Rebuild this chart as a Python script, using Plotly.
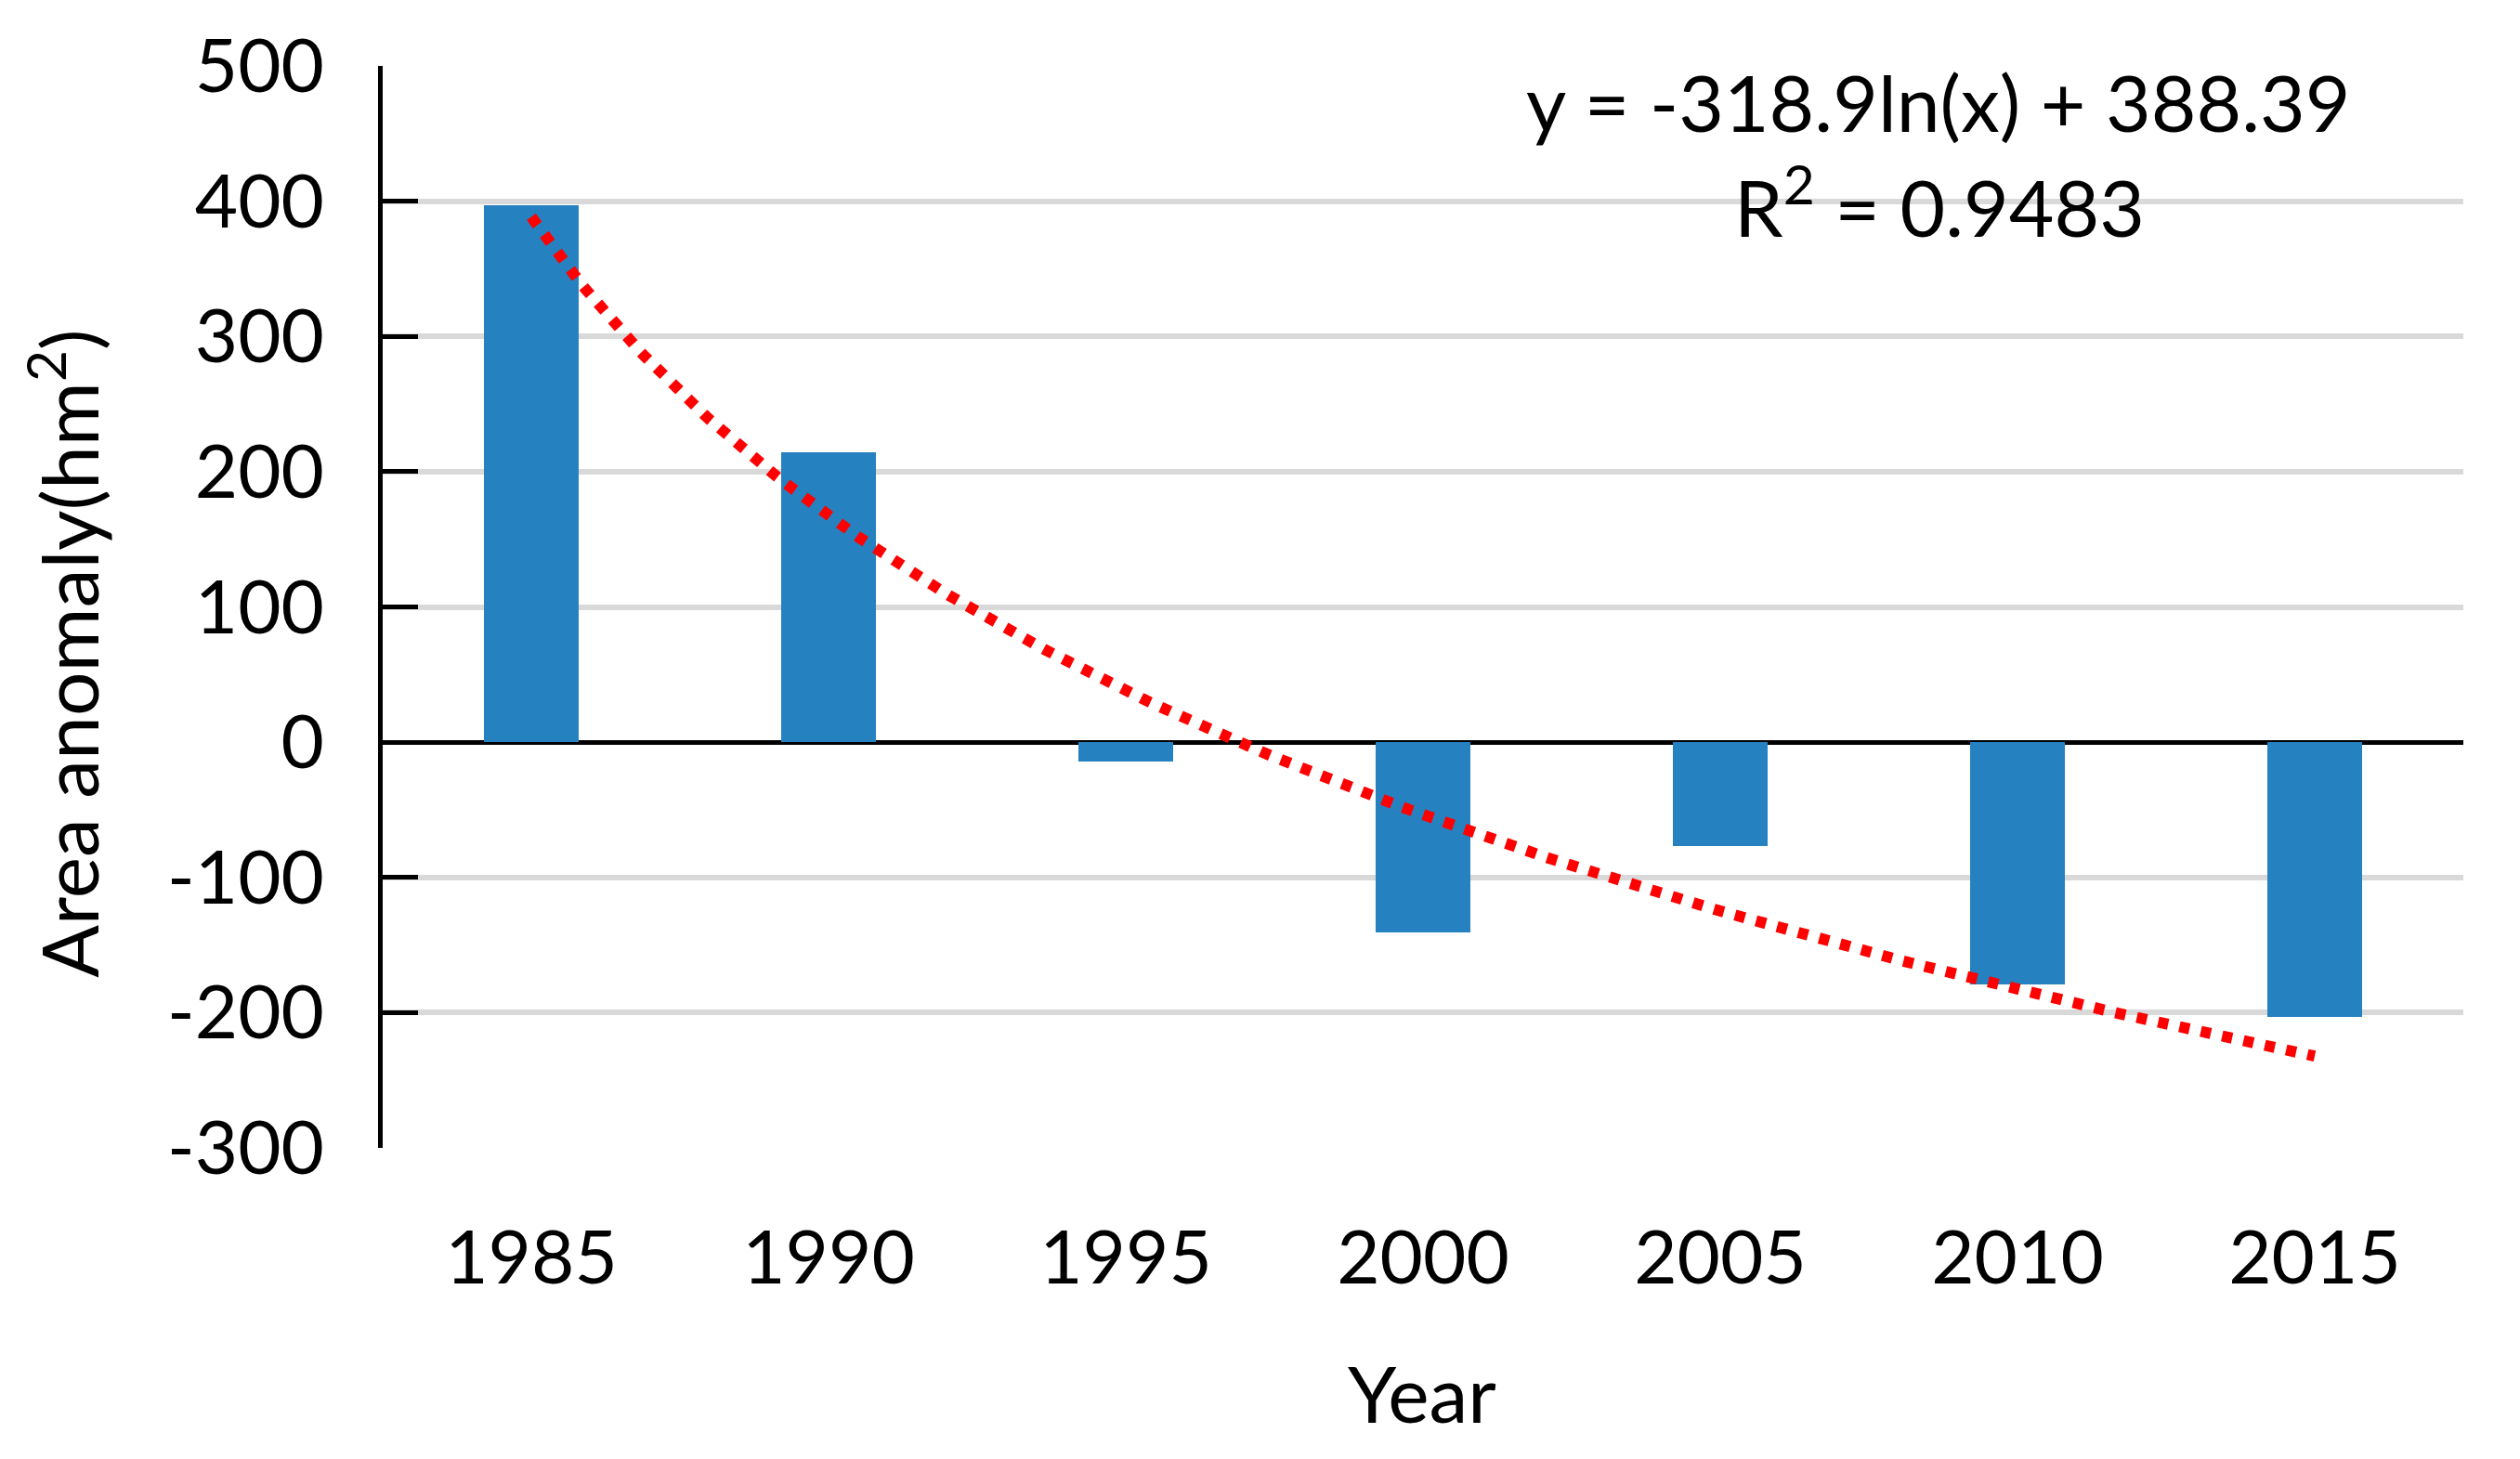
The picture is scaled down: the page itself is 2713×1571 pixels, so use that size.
import numpy as np
import plotly.graph_objects as go

years = ["1985", "1990", "1995", "2000", "2005", "2010", "2015"]
anomaly = [397, 214, -14, -141, -77, -179, -203]
trend_slope = -318.9
trend_intercept = 388.39
r_squared = 0.9483
y_ticks = [-300, -200, -100, 0, 100, 200, 300, 400, 500]
y_ticktext = ["-300", "-200", "-100", "0", "100", "200", "300", "400", "500"]

pos = np.arange(1, len(years) + 1)
xs = np.linspace(1, len(years), 300)
ys = trend_slope * np.log(xs) + trend_intercept

FONT = "Lato"
TICK_FS = 80
TXT_FS = 84

W, H = 2713, 1571
L, R, T, B = 404, 69, 60, 343
PW, PH = W - L - R, H - T - B


def px_x(p):
    return (p - L) / PW


def px_y(p):
    return (H - B - p) / PH


fig = go.Figure()
fig.add_trace(go.Bar(x=pos, y=anomaly, width=0.317, marker=dict(color="#2581c0", line=dict(width=0)),
                     showlegend=False))
fig.add_trace(go.Scatter(x=xs, y=ys, mode="lines", line=dict(color="#ff0000", width=12, dash="11px,12.5px"),
                         showlegend=False))

fig.add_annotation(x=px_x(2078), y=px_y(151), xref="paper", yref="paper", xanchor="center", yanchor="bottom",
                   text="y = %.1fln(x) + %.2f" % (trend_slope, trend_intercept),
                   showarrow=False, font=dict(family=FONT, size=TXT_FS, color="black"))
fig.add_annotation(x=px_x(2080), y=px_y(265), xref="paper", yref="paper", xanchor="center", yanchor="bottom",
                   text="R<sup>2</sup> = %.4f" % r_squared,
                   showarrow=False, font=dict(family=FONT, size=TXT_FS, color="black"))
# axis titles
fig.add_annotation(x=px_x(1523), y=px_y(1545), xref="paper", yref="paper", xanchor="center", yanchor="bottom",
                   text="Year", showarrow=False, font=dict(family=FONT, size=TXT_FS, color="black"))
fig.add_annotation(x=px_x(118), y=px_y(695), xref="paper", yref="paper", xanchor="right", yanchor="middle",
                   text="Area anomaly(hm<sup>2</sup>)", textangle=-90, showarrow=False,
                   font=dict(family=FONT, size=TXT_FS, color="black"))

fig.update_layout(
    width=W, height=H,
    margin=dict(l=L, r=R, t=T, b=B),
    paper_bgcolor="white", plot_bgcolor="white",
    font=dict(family=FONT, size=TICK_FS, color="black"),
    bargap=0,
)
fig.update_xaxes(
    range=[0.5, len(years) + 0.5], tickvals=pos, ticktext=years,
    showgrid=False, zeroline=False, showline=False, ticks="",
    ticklabelstandoff=65,
    tickfont=dict(size=TICK_FS),
)
fig.update_yaxes(
    range=[-300, 500], tickvals=y_ticks, ticktext=y_ticktext,
    showgrid=True, gridcolor="#d9d9d9", gridwidth=6,
    zeroline=True, zerolinecolor="black", zerolinewidth=5,
    showline=True, linecolor="black", linewidth=5,
    ticks="inside", ticklen=38, tickwidth=5, tickcolor="black",
    ticklabelstandoff=42,
    tickfont=dict(size=TICK_FS),
)

fig.write_html("out.html")
